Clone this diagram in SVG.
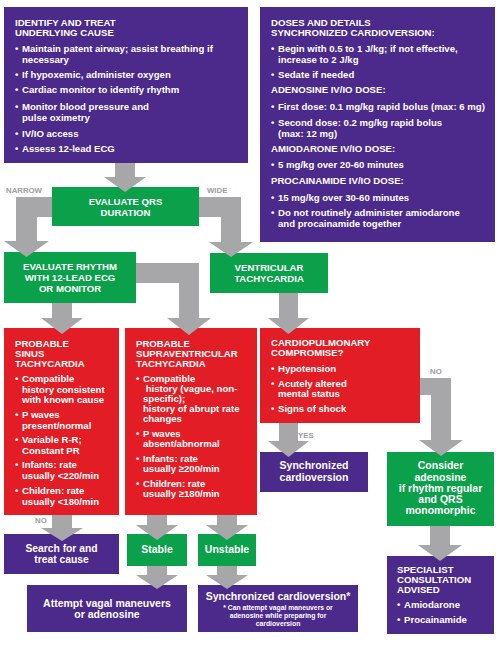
<svg xmlns="http://www.w3.org/2000/svg" width="500" height="645" viewBox="0 0 500 645">
<style>
text{font-family:"Liberation Sans",Arial,sans-serif;font-weight:bold;fill:#fff}
.p{fill:#4B2A8B}.g{fill:#0BA14B}.r{fill:#E31D25}
.t{font-size:9.6px}
.m{font-size:10.5px;text-anchor:middle}
.c{font-size:9.6px;text-anchor:middle}
.s{font-size:6.8px;text-anchor:middle}
.arr{fill:#A7A7AA}
.lb{font-size:7.8px;fill:#9C9C9E}
</style>
<rect width="500" height="645" fill="#fff"/>

<g id="identify">
<rect class="p" x="4" y="7" width="244" height="156"/>
<text class="t" x="15"><tspan x="15" y="25.5">IDENTIFY AND TREAT</tspan><tspan x="15" y="36">UNDERLYING CAUSE</tspan></text>
<text class="t"><tspan x="15" y="52">•</tspan><tspan x="22" y="52">Maintain patent airway; assist breathing if</tspan><tspan x="22" y="63">necessary</tspan>
<tspan x="15" y="78">•</tspan><tspan x="22" y="78">If hypoxemic, administer oxygen</tspan>
<tspan x="15" y="93">•</tspan><tspan x="22" y="93">Cardiac monitor to identify rhythm</tspan>
<tspan x="15" y="110">•</tspan><tspan x="22" y="110">Monitor blood pressure and</tspan><tspan x="22" y="121">pulse oximetry</tspan>
<tspan x="15" y="137">•</tspan><tspan x="22" y="137">IV/IO access</tspan>
<tspan x="15" y="152">•</tspan><tspan x="22" y="152">Assess 12-lead ECG</tspan></text>
</g>

<g id="doses">
<rect class="p" x="260" y="7" width="235" height="235"/>
<text class="t"><tspan x="271" y="25.5">DOSES AND DETAILS</tspan><tspan x="271" y="36">SYNCHRONIZED CARDIOVERSION:</tspan>
<tspan x="271" y="52">•</tspan><tspan x="278" y="52">Begin with 0.5 to 1 J/kg; if not effective,</tspan><tspan x="278" y="63">increase to 2 J/kg</tspan>
<tspan x="271" y="78">•</tspan><tspan x="278" y="78">Sedate if needed</tspan>
<tspan x="271" y="93">ADENOSINE IV/IO DOSE:</tspan>
<tspan x="271" y="110">•</tspan><tspan x="278" y="110">First dose: 0.1 mg/kg rapid bolus (max: 6 mg)</tspan>
<tspan x="271" y="126">•</tspan><tspan x="278" y="126">Second dose: 0.2 mg/kg rapid bolus</tspan><tspan x="278" y="137">(max: 12 mg)</tspan>
<tspan x="271" y="152">AMIODARONE IV/IO DOSE:</tspan>
<tspan x="271" y="168">•</tspan><tspan x="278" y="168">5 mg/kg over 20-60 minutes</tspan>
<tspan x="271" y="184">PROCAINAMIDE IV/IO DOSE:</tspan>
<tspan x="271" y="201">•</tspan><tspan x="278" y="201">15 mg/kg over 30-60 minutes</tspan>
<tspan x="271" y="216">•</tspan><tspan x="278" y="216">Do not routinely administer amiodarone</tspan><tspan x="278" y="227">and procainamide together</tspan></text>
</g>

<g id="qrs">
<rect class="g" x="52" y="187" width="147" height="39"/>
<text class="c"><tspan x="125.5" y="205">EVALUATE QRS</tspan><tspan x="125.5" y="216">DURATION</tspan></text>
</g>

<g id="rhythm">
<rect class="g" x="4" y="252" width="132" height="51"/>
<text class="c"><tspan x="70" y="270">EVALUATE RHYTHM</tspan><tspan x="70" y="281">WITH 12-LEAD ECG</tspan><tspan x="70" y="292">OR MONITOR</tspan></text>
</g>

<g id="vt">
<rect class="g" x="210" y="253" width="118" height="40"/>
<text class="c"><tspan x="269" y="271">VENTRICULAR</tspan><tspan x="269" y="282">TACHYCARDIA</tspan></text>
</g>

<g id="sinus">
<rect class="r" x="4" y="328" width="115" height="187"/>
<text class="t"><tspan x="15" y="346.5">PROBABLE</tspan><tspan x="15" y="356.5">SINUS</tspan><tspan x="15" y="366.5">TACHYCARDIA</tspan>
<tspan x="15" y="382">•</tspan><tspan x="22" y="382">Compatible</tspan><tspan x="22" y="392.5">history consistent</tspan><tspan x="22" y="403">with known cause</tspan>
<tspan x="15" y="418">•</tspan><tspan x="22" y="418">P waves</tspan><tspan x="22" y="428.5">present/normal</tspan>
<tspan x="15" y="443">•</tspan><tspan x="22" y="443">Variable R-R;</tspan><tspan x="22" y="453.5">Constant PR</tspan>
<tspan x="15" y="468">•</tspan><tspan x="22" y="468">Infants: rate</tspan><tspan x="22" y="478.5">usually &lt;220/min</tspan>
<tspan x="15" y="494">•</tspan><tspan x="22" y="494">Children: rate</tspan><tspan x="22" y="504.5">usually &lt;180/min</tspan></text>
</g>

<g id="svt">
<rect class="r" x="125" y="328" width="132" height="187"/>
<text class="t"><tspan x="136" y="346.5">PROBABLE</tspan><tspan x="136" y="356.5">SUPRAVENTRICULAR</tspan><tspan x="136" y="366.5">TACHYCARDIA</tspan>
<tspan x="136" y="382">•</tspan><tspan x="143" y="382">Compatible</tspan><tspan x="143" y="392"> history (vague, non-</tspan><tspan x="143" y="402">specific);</tspan><tspan x="143" y="412">history of abrupt rate</tspan><tspan x="143" y="422">changes</tspan>
<tspan x="136" y="437">•</tspan><tspan x="143" y="437">P waves</tspan><tspan x="143" y="447">absent/abnormal</tspan>
<tspan x="136" y="462">•</tspan><tspan x="143" y="462">Infants: rate</tspan><tspan x="143" y="472">usually ≥200/min</tspan>
<tspan x="136" y="487">•</tspan><tspan x="143" y="487">Children: rate</tspan><tspan x="143" y="497">usually ≥180/min</tspan></text>
</g>

<g id="cardio">
<rect class="r" x="260" y="328" width="160" height="95"/>
<text class="t"><tspan x="271" y="346">CARDIOPULMONARY</tspan><tspan x="271" y="356">COMPROMISE?</tspan>
<tspan x="271" y="372">•</tspan><tspan x="278" y="372">Hypotension</tspan>
<tspan x="271" y="387">•</tspan><tspan x="278" y="387">Acutely altered</tspan><tspan x="278" y="397">mental status</tspan>
<tspan x="271" y="412">•</tspan><tspan x="278" y="412">Signs of shock</tspan></text>
</g>

<g id="synccv">
<rect class="p" x="260" y="452" width="108" height="40"/>
<text class="m"><tspan x="314" y="469">Synchronized</tspan><tspan x="314" y="481">cardioversion</tspan></text>
</g>

<g id="consider">
<rect class="g" x="387" y="452" width="107" height="74"/>
<text class="m"><tspan x="440.5" y="469">Consider</tspan><tspan x="440.5" y="481">adenosine</tspan><tspan x="440.5" y="492">if rhythm regular</tspan><tspan x="440.5" y="503">and QRS</tspan><tspan x="440.5" y="514">monomorphic</tspan></text>
</g>

<g id="specialist">
<rect class="p" x="387" y="556" width="107" height="78"/>
<text class="t"><tspan x="397" y="573">SPECIALIST</tspan><tspan x="397" y="583">CONSULTATION</tspan><tspan x="397" y="593">ADVISED</tspan>
<tspan x="397" y="608">•</tspan><tspan x="404" y="608">Amiodarone</tspan>
<tspan x="397" y="623">•</tspan><tspan x="404" y="623">Procainamide</tspan></text>
</g>

<g id="search">
<rect class="p" x="4" y="534" width="115" height="40"/>
<text class="m" style="font-size:10.3px"><tspan x="61.5" y="552">Search for and</tspan><tspan x="61.5" y="563">treat cause</tspan></text>
</g>

<g id="stable">
<rect class="g" x="127" y="534" width="60" height="32"/>
<text class="m" x="157" y="553">Stable</text>
</g>

<g id="unstable">
<rect class="g" x="198" y="534" width="58" height="32"/>
<text class="m" x="227" y="553">Unstable</text>
</g>

<g id="vagal">
<rect class="p" x="27" y="585" width="160" height="47"/>
<text class="m"><tspan x="107" y="607">Attempt vagal maneuvers</tspan><tspan x="107" y="618">or adenosine</tspan></text>
</g>

<g id="synccv2">
<rect class="p" x="198" y="585" width="160" height="47"/>
<text class="m" x="278" y="600">Synchronized cardioversion*</text>
<text class="s"><tspan x="278" y="610">* Can attempt vagal maneuvers or</tspan><tspan x="278" y="618">adenosine while preparing for</tspan><tspan x="278" y="626">cardioversion</tspan></text>
</g>

<g id="connectors">
<path class="arr" d="M115,163 H135 V177 H146 L125,192 L104,177 H115 Z"/>
<path class="arr" d="M52,197 H16 V241 H4 L26.5,257 L49,241 H37 V217 H52 Z"/>
<path class="arr" d="M199,197 H241 V242 H253 L231,257 L209,242 H221 V217 H199 Z"/>
<path class="arr" d="M52,303 H72 V318 H83 L62,334 L41,318 H52 Z"/>
<path class="arr" d="M136,263 H199 V318 H211 L189,335 L167,318 H179 V283 H136 Z"/>
<path class="arr" d="M279,293 H298 V318 H309 L288.5,334 L268,318 H279 Z"/>
<path class="arr" d="M279,423 H298 V441 H309 L288.5,457 L268,441 H279 Z"/>
<path class="arr" d="M420,378 H451 V440 H463 L441,456 L419,440 H431 V395 H420 Z"/>
<path class="arr" d="M430,526 H450 V545 H462 L440,561 L418,545 H430 Z"/>
<path class="arr" d="M52,515 H72 V528 H83 L62,541 L41,528 H52 Z"/>
<path class="arr" d="M147,515 H167 V525 H178 L157,540 L136,525 H147 Z"/>
<path class="arr" d="M217,515 H237 V525 H248 L227,540 L206,525 H217 Z"/>
<path class="arr" d="M147,566 H167 V575 H178 L157,589 L136,575 H147 Z"/>
<path class="arr" d="M217,566 H237 V575 H248 L227,589 L206,575 H217 Z"/>
<text class="lb" x="6" y="193">NARROW</text>
<text class="lb" x="207" y="193">WIDE</text>
<text class="lb" x="35" y="523">NO</text>
<text class="lb" x="298" y="438">YES</text>
<text class="lb" x="430" y="374">NO</text>
</g>
</svg>
